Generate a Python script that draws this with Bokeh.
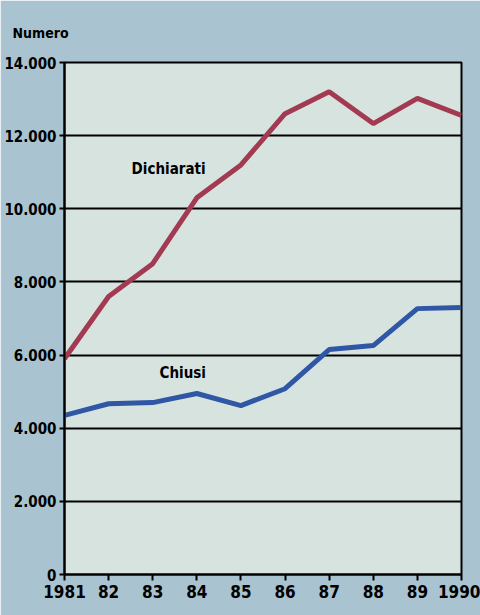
from bokeh.plotting import figure
from bokeh.models import Range1d, FixedTicker, Label
from bokeh.embed import file_html
from bokeh.resources import INLINE

years = [1981, 1982, 1983, 1984, 1985, 1986, 1987, 1988, 1989, 1990]
year_labels = ["1981", "82", "83", "84", "85", "86", "87", "88", "89", "1990"]
dichiarati = [5900, 7600, 8500, 10300, 11200, 12600, 13200, 12330, 13020, 12550]
chiusi = [4350, 4670, 4700, 4950, 4620, 5080, 6150, 6260, 7270, 7300]
y_ticks = [0, 2000, 4000, 6000, 8000, 10000, 12000, 14000]
y_labels = ["0", "2.000", "4.000", "6.000", "8.000", "10.000", "12.000", "14.000"]

OUTER = "#a9c4d0"
INNER = "#d7e3df"
RED = "#a23a52"
BLUE = "#2f57a5"
FONT = "DejaVu Sans Condensed"

p = figure(width=480, height=615, output_backend="svg", toolbar_location=None,
           x_range=Range1d(1981, 1990), y_range=Range1d(0, 14000),
           min_border_left=64, min_border_right=19, min_border_top=62, min_border_bottom=41,
           title="Numero", title_location="above")
p.title.text_font = FONT
p.title.text_font_style = "bold"
p.title.text_font_size = "14px"
p.title.text_color = "black"
p.title.align = "left"
p.title.vertical_align = "top"
p.title.offset = -52
p.title.standoff = 40
p.background_fill_color = INNER
p.border_fill_color = OUTER
p.outline_line_color = "black"
p.outline_line_width = 2

p.xgrid.visible = False
p.ygrid.ticker = FixedTicker(ticks=y_ticks)
p.ygrid.grid_line_color = "black"
p.ygrid.grid_line_width = 2

p.xaxis.ticker = FixedTicker(ticks=years)
p.xaxis.major_label_overrides = dict(zip(years, year_labels))
p.yaxis.ticker = FixedTicker(ticks=y_ticks)
p.yaxis.major_label_overrides = dict(zip(y_ticks, y_labels))

for ax in (p.xaxis, p.yaxis):
    ax.axis_line_color = "black"
    ax.axis_line_width = 2
    ax.major_tick_line_color = "black"
    ax.major_tick_line_width = 2
    ax.major_tick_in = 0
    ax.minor_tick_line_color = None
    ax.major_label_text_font = FONT
    ax.major_label_text_font_style = "bold"
    ax.major_label_text_color = "black"
p.xaxis.major_tick_out = 6
p.yaxis.major_tick_out = 5
p.xaxis.major_label_text_font_size = "17px"
p.yaxis.major_label_text_font_size = "15px"
p.xaxis.major_label_standoff = 4
p.yaxis.major_label_standoff = 3

p.line(years, dichiarati, line_color=RED, line_width=5)
p.line(years, chiusi, line_color=BLUE, line_width=5)

p.add_layout(Label(x=1983.36, y=11100, text="Dichiarati", text_font=FONT,
                   text_font_style="bold", text_font_size="15px", text_align="center",
                   text_baseline="middle", text_color="black"))
p.add_layout(Label(x=1983.68, y=5500, text="Chiusi", text_font=FONT,
                   text_font_style="bold", text_font_size="15px", text_align="center",
                   text_baseline="middle", text_color="black"))

open("out.html", "w").write(file_html(p, INLINE))
